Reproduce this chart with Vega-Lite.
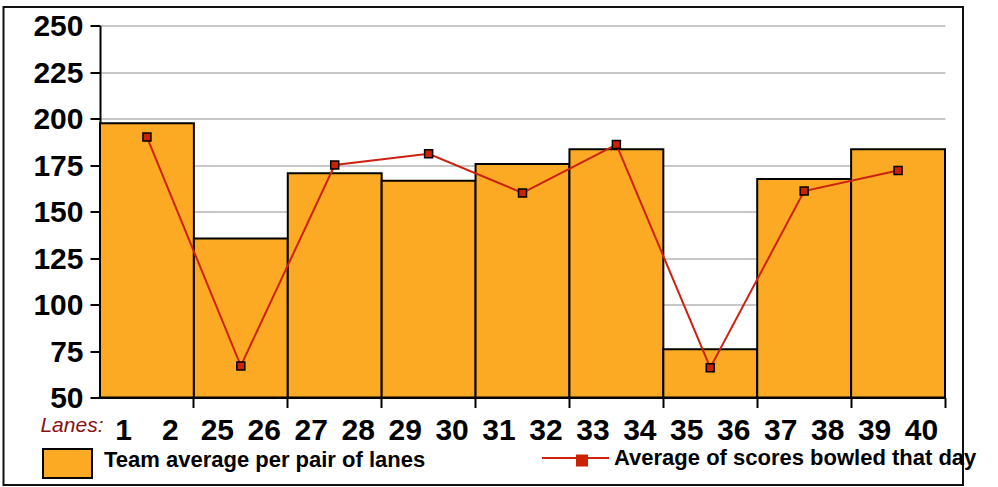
{
  "$schema": "https://vega.github.io/schema/vega-lite/v6.json",
  "width": 845,
  "height": 372,
  "autosize": {"type": "none"},
  "padding": {"left": 100, "top": 25.5, "right": 53, "bottom": 89.5},
  "background": "white",
  "config": {"view": {"stroke": null}, "font": "Liberation Sans"},
  "datasets": {
    "pairs": [
      {"lane1": "1", "lane2": "2", "team": 197.5, "day": 190},
      {"lane1": "25", "lane2": "26", "team": 135.5, "day": 67},
      {"lane1": "27", "lane2": "28", "team": 170.5, "day": 175},
      {"lane1": "29", "lane2": "30", "team": 166.5, "day": 181},
      {"lane1": "31", "lane2": "32", "team": 175.5, "day": 160},
      {"lane1": "33", "lane2": "34", "team": 183.5, "day": 186},
      {"lane1": "35", "lane2": "36", "team": 76, "day": 66},
      {"lane1": "37", "lane2": "38", "team": 167.5, "day": 161},
      {"lane1": "39", "lane2": "40", "team": 183.5, "day": 172}
    ]
  },
  "layer": [
    {
      "data": {"name": "pairs"},
      "layer": [
        {
          "mark": {"type": "bar", "stroke": "black", "strokeWidth": 2},
          "encoding": {
            "x": {
              "field": "lane1", "type": "ordinal", "bandPosition": 0, "title": "Lanes:",
              "scale": {"domain": ["1","2","25","26","27","28","29","30","31","32","33","34","35","36","37","38","39","40"], "paddingInner": 0, "paddingOuter": 0},
              "axis": {
                "titleFont": "Liberation Sans", "titleFontStyle": "italic", "titleFontWeight": "normal", "titleFontSize": 21,
                "titleColor": "#8b1010", "titleX": 3, "titleY": 33.5, "titleAlign": "right", "titleBaseline": "alphabetic",
                "labelFont": "Liberation Sans", "labelFontSize": 30, "labelFontWeight": "bold", "labelColor": "black",
                "labelAngle": 0, "labelPadding": 8, "labelOverlap": false,
                "tickSize": 10, "tickWidth": 2, "tickColor": "black", "bandPosition": 1,
                "tickOpacity": {"condition": {"test": "indexof(['2','26','28','30','32','34','36','38','40'], datum.value) >= 0", "value": 1}, "value": 0},
                "domainColor": "black", "domainWidth": 2, "grid": false
              }
            },
            "x2": {"field": "lane2", "bandPosition": 1},
            "y": {
              "field": "team", "type": "quantitative", "title": null,
              "scale": {"domain": [50, 250], "nice": false, "zero": false},
              "axis": {
                "values": [50, 75, 100, 125, 150, 175, 200, 225, 250],
                "labelFont": "Liberation Sans", "labelFontSize": 30, "labelFontWeight": "bold", "labelColor": "black",
                "labelPadding": 7, "labelOffset": 1,
                "tickSize": 10, "tickWidth": 2, "tickColor": "black",
                "domainColor": "black", "domainWidth": 2,
                "grid": true, "gridColor": "#c8c8c8", "gridWidth": 2
              }
            },
            "y2": {"datum": 50},
            "fill": {
              "datum": "Team average per pair of lanes",
              "scale": {"range": ["#FCAA24"]},
              "legend": {
                "orient": "none", "legendX": -58, "legendY": 409, "title": null, "padding": 0,
                "symbolType": "M-1,-0.449H1V0.735H-1Z", "symbolSize": 2401,
                "symbolStrokeColor": "black", "symbolStrokeWidth": 2, "symbolFillColor": "#FCAA24", "symbolOpacity": 1,
                "labelFont": "Liberation Sans", "labelFontSize": 22, "labelFontWeight": "bold", "labelColor": "black",
                "labelOffset": 11, "labelLimit": 600
              }
            }
          }
        },
        {
          "mark": {"type": "line", "strokeWidth": 2},
          "encoding": {
            "x": {"field": "lane1", "type": "ordinal", "bandPosition": 1, "title": "Lanes:"},
            "y": {"field": "day", "type": "quantitative", "title": null},
            "stroke": {
              "datum": "Average of scores bowled that day",
              "scale": {"range": ["#CC2211"]},
              "legend": {
                "orient": "none", "legendX": 441, "legendY": 398, "title": null, "padding": 0,
                "symbolType": "stroke", "symbolSize": 4489, "symbolStrokeWidth": 2,
                "labelFont": "Liberation Sans", "labelFontSize": 22, "labelFontWeight": "bold", "labelColor": "black",
                "labelOffset": 4, "labelLimit": 600
              }
            }
          }
        },
        {
          "mark": {"type": "point", "filled": true, "fill": "#CC2200", "stroke": "black", "strokeWidth": 1.5, "size": 64, "opacity": 1},
          "encoding": {
            "x": {"field": "lane1", "type": "ordinal", "bandPosition": 1, "title": "Lanes:"},
            "y": {"field": "day", "type": "quantitative", "title": null},
            "shape": {
              "datum": "marker",
              "scale": {"range": ["square"]},
              "legend": {
                "orient": "none", "legendX": 475, "legendY": 428, "title": null, "padding": 0,
                "symbolSize": 144, "symbolFillColor": "#CC2200", "symbolStrokeColor": "black", "symbolStrokeWidth": 1.5,
                "labelExpr": "''"
              }
            }
          }
        }
      ]
    },
    {
      "data": {"values": [{}]},
      "mark": {"type": "rect", "fill": null, "stroke": "#111111", "strokeWidth": 2, "clip": false},
      "encoding": {
        "x": {"datum": -0.1142, "type": "quantitative", "scale": {"domain": [0, 1]}, "axis": null},
        "x2": {"datum": 1.0213},
        "y": {"datum": 259.95, "type": "quantitative", "title": null, "scale": {"domain": [50, 250], "nice": false, "zero": false}},
        "y2": {"datum": 2.96}
      }
    }
  ],
  "resolve": {"scale": {"x": "independent"}}
}
